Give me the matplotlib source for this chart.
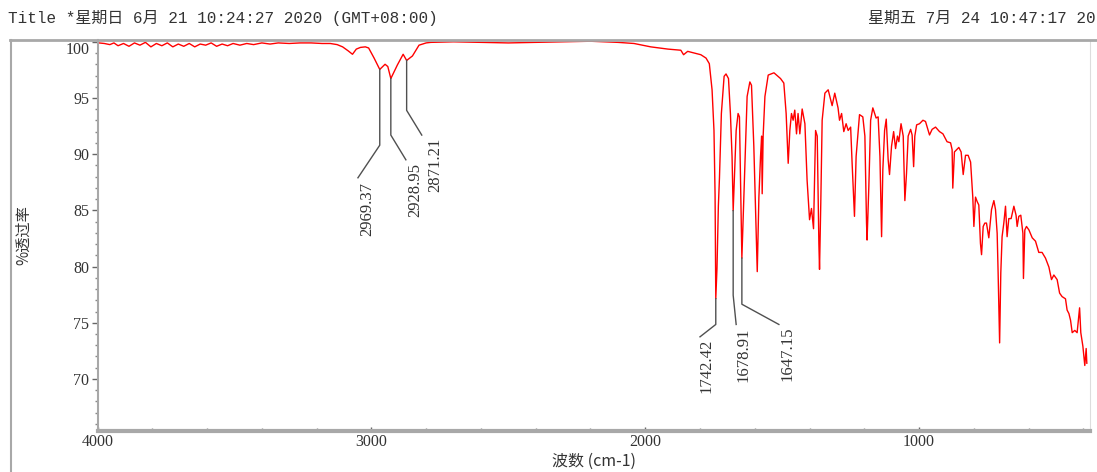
import matplotlib.pyplot as plt
import numpy as np
from matplotlib.lines import Line2D
from matplotlib.ticker import MultipleLocator

# spectrum (wavenumber cm-1, %T)
wavenumber = [
    3995, 3975, 3955, 3940, 3925, 3905, 3885, 3865, 3845, 3825,
    3805, 3785, 3765, 3745, 3725, 3705, 3685, 3665, 3645, 3625,
    3605, 3585, 3565, 3545, 3525, 3505, 3480, 3455, 3430, 3400,
    3370, 3340, 3300, 3260, 3220, 3180, 3150, 3125, 3105, 3085,
    3069, 3055, 3040, 3022, 3010, 2990, 2969.37, 2950, 2940, 2928.95,
    2905, 2884, 2871.21, 2850, 2826, 2800, 2783, 2700, 2600, 2500,
    2400, 2300, 2200, 2150, 2100, 2041, 1980, 1917, 1870, 1860,
    1845, 1797, 1778, 1766, 1756, 1749, 1745, 1742.42, 1738, 1733,
    1729, 1722, 1712, 1705, 1696, 1689, 1683, 1678.91, 1668, 1661,
    1656, 1647.15, 1636, 1628, 1618, 1612, 1603.5, 1597, 1591, 1585,
    1579, 1575, 1573, 1569.5, 1563, 1551, 1530, 1506, 1494, 1485.5,
    1478, 1472, 1466, 1460, 1454, 1447.6, 1442, 1435.5, 1427, 1417,
    1409, 1400, 1393, 1385.5, 1378, 1372, 1366, 1363.6, 1359, 1354,
    1344, 1332, 1317.6, 1308, 1296, 1290.6, 1283, 1275, 1266.5, 1259,
    1250, 1244.6, 1236, 1230, 1217.6, 1205.5, 1198, 1192, 1190, 1183.6,
    1177, 1169, 1157, 1149.6, 1143, 1137, 1132.5, 1126, 1120, 1113,
    1108, 1100.7, 1093, 1086, 1079, 1074, 1066, 1058, 1052, 1046,
    1040, 1031, 1025.5, 1020, 1015.7, 1009, 998.5, 986, 976.6, 962,
    952.5, 940, 925.5, 913, 898, 885, 879.5, 877, 871, 855,
    846.6, 839, 830.5, 821, 812, 804, 800, 794, 788, 782,
    776, 772, 766, 760, 754, 745.5, 735.6, 727, 721, 715,
    711.5, 706, 701.7, 697, 690.7, 684.5, 678.7, 672.5, 664, 654,
    646, 642, 636, 628.7, 621, 619, 614, 608, 599, 587,
    575, 563, 551, 538.5, 526, 516.6, 508, 496, 487, 478,
    465.5, 459.6, 453, 447, 441, 431.5, 423, 414, 409.6, 402,
    395, 390, 387.6,
]
transmittance = [
    99.90, 99.85, 99.75, 99.90, 99.65, 99.85, 99.60, 99.90, 99.70, 99.95,
    99.55, 99.85, 99.65, 99.90, 99.55, 99.80, 99.60, 99.85, 99.55, 99.80,
    99.70, 99.90, 99.60, 99.80, 99.65, 99.85, 99.70, 99.85, 99.75, 99.90,
    99.80, 99.90, 99.85, 99.90, 99.90, 99.85, 99.85, 99.75, 99.55, 99.20,
    98.89, 99.35, 99.50, 99.55, 99.45, 98.55, 97.54, 98.00, 97.80, 96.73,
    97.94, 98.89, 98.34, 98.74, 99.70, 99.90, 99.95, 100.00, 99.95, 99.90,
    99.95, 100.00, 100.05, 100.00, 99.95, 99.85, 99.55, 99.35, 99.25, 98.85,
    99.15, 98.85, 98.55, 98.05, 95.73, 92.11, 86.38, 77.14, 79.85, 85.37,
    87.88, 93.62, 96.93, 97.14, 96.73, 93.62, 89.79, 84.97, 92.11, 93.62,
    93.32, 80.75, 89.19, 95.13, 96.43, 96.13, 90.70, 84.77, 79.55, 86.18,
    89.80, 91.61, 86.48, 91.61, 95.13, 97.04, 97.24, 96.73, 96.33, 93.62,
    89.19, 92.11, 93.62, 93.02, 93.92, 91.81, 93.62, 91.81, 94.02, 92.71,
    87.68, 84.17, 85.17, 83.37, 92.11, 91.61, 82.06, 79.75, 85.67, 93.02,
    95.43, 95.73, 94.32, 95.43, 94.12, 93.02, 93.62, 92.01, 92.71, 92.11,
    92.41, 89.19, 84.47, 89.80, 93.52, 93.32, 91.61, 83.87, 82.36, 87.08,
    93.02, 94.12, 93.22, 93.32, 89.80, 82.66, 88.59, 92.11, 93.12, 89.50,
    88.19, 90.70, 92.01, 90.50, 91.61, 91.11, 92.71, 91.61, 85.87, 88.29,
    91.61, 92.21, 91.71, 88.89, 91.61, 92.61, 92.71, 93.02, 92.91, 91.71,
    92.21, 92.41, 92.01, 91.81, 91.11, 91.01, 90.40, 86.98, 90.20, 90.60,
    90.20, 88.19, 89.90, 89.90, 89.30, 86.18, 83.57, 86.18, 85.78, 85.48,
    82.06, 81.06, 83.57, 83.87, 83.87, 82.56, 85.07, 85.87, 85.07, 82.96,
    79.45, 73.21, 79.45, 82.66, 83.87, 85.37, 82.66, 84.27, 84.27, 85.37,
    84.57, 83.57, 84.47, 84.57, 82.96, 78.94, 83.26, 83.57, 83.26, 82.56,
    82.26, 81.26, 81.26, 80.75, 79.95, 78.84, 79.25, 78.84, 77.64, 77.33,
    77.13, 76.13, 75.82, 75.22, 74.12, 74.32, 74.12, 76.33, 74.12, 72.91,
    71.20, 72.71, 71.40,
]

# labelled peaks
peak_wn = [2969.37, 2928.95, 2871.21, 1742.42, 1678.91, 1647.15]
peak_labels = ['2969.37', '2928.95', '2871.21', '1742.42', '1678.91', '1647.15']

# leader line layout: knee %T, end (wn, %T), text (wn, top %T)
knee_T = [90.8, 91.7, 93.9, 74.85, 77.45, 76.65]
end_wn = [3049, 2874, 2816, 1800, 1668, 1512]
end_T = [87.9, 89.5, 91.7, 73.75, 74.85, 74.85]
text_wn = [3016, 2838, 2766, 1775, 1643, 1480]
text_T = [87.5, 89.2, 91.5, 73.55, 74.55, 74.65]

y_ticks = [70, 75, 80, 85, 90, 95, 100]
x_ticks = [4000, 3000, 2000, 1000]

cjk = ['Noto Sans CJK SC', 'DejaVu Sans']
mono = ['Liberation Mono', 'Noto Sans CJK SC']
serif = ['Liberation Serif', 'DejaVu Serif']
grey = '#a8a8a8'
txt = '#333333'

fig = plt.figure(figsize=(10.97, 4.72), dpi=100)
ax = fig.add_axes([97.5 / 1097, 1 - 431 / 472, (1090 - 97.5) / 1097, (431 - 40) / 472])

ax.plot(wavenumber, transmittance, color='#ff0000', lw=1.0)

peak_T = np.interp(peak_wn, wavenumber[::-1], transmittance[::-1])
for i in range(len(peak_wn)):
    ax.plot([peak_wn[i], peak_wn[i], end_wn[i]], [peak_T[i], knee_T[i], end_T[i]],
            color='#505050', lw=1.0)
    ax.text(text_wn[i], text_T[i], peak_labels[i], rotation=90, ha='center', va='top',
            fontsize=12, family=serif, color=txt)

ax.set_xlim(4000, 376)
ax.set_ylim(65.37, 100.16)
ax.set_xticks(x_ticks)
ax.set_yticks(y_ticks)
ax.xaxis.set_minor_locator(MultipleLocator(200))
ax.yaxis.set_minor_locator(MultipleLocator(1))
ax.tick_params(axis='y', which='major', direction='out', length=4, width=1, color='#666666',
               labelsize=11.5, labelcolor=txt, pad=2)
ax.tick_params(axis='y', which='minor', direction='out', length=2, width=1, color='#888888')
ax.tick_params(axis='x', which='major', direction='in', length=3, width=1, color='#666666',
               labelsize=11.5, labelcolor=txt, pad=2)
ax.tick_params(axis='x', which='minor', direction='in', length=2, width=1, color='#888888')
for lbl in ax.get_xticklabels() + ax.get_yticklabels():
    lbl.set_family(serif)
for lbl in ax.get_yticklabels():
    if lbl.get_text() == '100':
        lbl.set_va('top')

ax.spines['top'].set_visible(False)
ax.spines['right'].set_color('#dddddd')
ax.spines['left'].set_color(grey)
ax.spines['left'].set_linewidth(1.5)
ax.spines['bottom'].set_color(grey)
ax.spines['bottom'].set_linewidth(3)

ax.set_xlabel('波数 (cm-1)', family=cjk, fontsize=11.5, color=txt, labelpad=2)
ax.set_ylabel('%透过率', family=cjk, fontsize=11, color=txt, labelpad=24)

# header and frame
fig.add_artist(Line2D([10 / 1097, 1], [1 - 39.5 / 472] * 2, color=grey, lw=2))
fig.add_artist(Line2D([10.5 / 1097] * 2, [0, 1 - 39.5 / 472], color=grey, lw=1.5))
fig.text(8 / 1097, 1 - 18 / 472, 'Title *星期日 6月 21 10:24:27 2020 (GMT+08:00)',
         family=mono, fontsize=11.5, color=txt, va='center', ha='left')
fig.text(1096 / 1097, 1 - 18 / 472, '星期五 7月 24 10:47:17 20',
         family=mono, fontsize=11.5, color=txt, va='center', ha='right')

fig.savefig('out.png', dpi=100)
